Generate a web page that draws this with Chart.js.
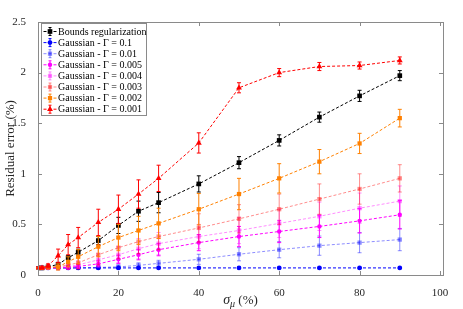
<!DOCTYPE html>
<html>
<head>
<meta charset="utf-8">
<script src="https://cdn.jsdelivr.net/npm/chart.js@4.4.0/dist/chart.umd.min.js"></script>
<style>
  html, body { margin: 0; padding: 0; background: #fff; }
</style>
</head>
<body>
<canvas id="chart" width="463" height="309"></canvas>
<script>
// sigma_mu in %
const sigmaMu = [0, 1, 2.5, 5, 7.5, 10, 15, 20, 25, 30, 40, 50, 60, 70, 80, 90];

const seriesNames = [
  "Bounds regularization",
  "Gaussian - Γ = 0.1",
  "Gaussian - Γ = 0.01",
  "Gaussian - Γ = 0.005",
  "Gaussian - Γ = 0.004",
  "Gaussian - Γ = 0.003",
  "Gaussian - Γ = 0.002",
  "Gaussian - Γ = 0.001"
];

// residual error (%) and error bar half-widths
const bounds     = [0.07, 0.07, 0.08, 0.105, 0.17, 0.225, 0.34, 0.49, 0.63, 0.715, 0.90, 1.11, 1.33, 1.56, 1.77, 1.97];
const boundsErr  = [0.01, 0.01, 0.01, 0.02, 0.02, 0.03, 0.04, 0.08, 0.10, 0.10, 0.08, 0.06, 0.055, 0.05, 0.055, 0.05];
const g0100      = [0.07, 0.07, 0.07, 0.07, 0.07, 0.07, 0.07, 0.07, 0.07, 0.07, 0.07, 0.07, 0.07, 0.07, 0.07, 0.07];
const g0100Err   = [0.005, 0.005, 0.005, 0.005, 0.005, 0.005, 0.005, 0.005, 0.005, 0.005, 0.005, 0.005, 0.005, 0.005, 0.005, 0.005];
const g0010      = [0.07, 0.07, 0.07, 0.07, 0.07, 0.07, 0.075, 0.08, 0.095, 0.115, 0.155, 0.205, 0.25, 0.29, 0.32, 0.35];
const g0010Err   = [0.005, 0.005, 0.005, 0.01, 0.01, 0.01, 0.015, 0.02, 0.025, 0.03, 0.05, 0.065, 0.08, 0.095, 0.10, 0.11];
const g0005      = [0.07, 0.07, 0.07, 0.07, 0.075, 0.085, 0.11, 0.155, 0.20, 0.25, 0.32, 0.38, 0.43, 0.48, 0.535, 0.595];
const g0005Err   = [0.005, 0.005, 0.01, 0.01, 0.015, 0.02, 0.03, 0.04, 0.05, 0.06, 0.08, 0.10, 0.11, 0.11, 0.12, 0.14];
const g0004      = [0.07, 0.07, 0.07, 0.075, 0.085, 0.10, 0.15, 0.20, 0.26, 0.31, 0.38, 0.44, 0.51, 0.58, 0.66, 0.73];
const g0004Err   = [0.005, 0.005, 0.01, 0.02, 0.03, 0.04, 0.06, 0.08, 0.10, 0.11, 0.12, 0.13, 0.14, 0.14, 0.15, 0.15];
const g0003      = [0.07, 0.07, 0.075, 0.08, 0.10, 0.12, 0.20, 0.27, 0.33, 0.38, 0.465, 0.555, 0.65, 0.75, 0.85, 0.955];
const g0003Err   = [0.005, 0.005, 0.01, 0.03, 0.04, 0.06, 0.10, 0.11, 0.12, 0.13, 0.14, 0.14, 0.15, 0.15, 0.15, 0.135];
const g0002      = [0.07, 0.07, 0.075, 0.08, 0.13, 0.18, 0.28, 0.37, 0.44, 0.51, 0.65, 0.80, 0.955, 1.12, 1.30, 1.55];
const g0002Err   = [0.005, 0.005, 0.01, 0.03, 0.05, 0.07, 0.10, 0.13, 0.14, 0.15, 0.155, 0.155, 0.145, 0.12, 0.10, 0.087];
const g0001      = [0.07, 0.07, 0.09, 0.19, 0.30, 0.37, 0.52, 0.65, 0.80, 0.955, 1.305, 1.85, 2.00, 2.06, 2.07, 2.12];
const g0001Err   = [0.01, 0.01, 0.02, 0.066, 0.10, 0.10, 0.13, 0.14, 0.14, 0.13, 0.10, 0.05, 0.04, 0.04, 0.035, 0.035];

const xTicks = [0, 20, 40, 60, 80, 100];
const yTicks = [0, 0.5, 1, 1.5, 2, 2.5];

const allValues = [bounds, g0100, g0010, g0005, g0004, g0003, g0002, g0001];
const allErrors = [boundsErr, g0100Err, g0010Err, g0005Err, g0004Err, g0003Err, g0002Err, g0001Err];

// styles
const colors = ["#000000", "#0000ff", "rgba(0,0,255,0.45)", "#ff00ff",
                "rgba(255,0,255,0.45)", "rgba(255,0,0,0.45)", "#ff8000", "#ff0000"];
const markers = ["rect", "circle", "rect", "circle", "rect", "rect", "rect", "triangle"];
const markerSize = [3.3, 2.4, 3, 2.2, 3, 3, 3, 3.4];

const serif = "'Liberation Serif', 'DejaVu Serif', serif";

const datasets = allValues.map((vals, i) => ({
  label: seriesNames[i],
  data: sigmaMu.map((x, k) => ({ x: x, y: vals[k] })),
  errors: allErrors[i],
  borderColor: colors[i],
  backgroundColor: colors[i],
  borderWidth: 1,
  borderDash: [3, 2],
  pointStyle: markers[i],
  pointRadius: markerSize[i],
  pointBorderWidth: 0,
  pointBackgroundColor: colors[i],
  tension: 0,
  order: 7 - i
}));

// error bars through the scales
const errorBars = {
  id: "errorBars",
  afterDatasetDraw(chart, args) {
    const ds = chart.data.datasets[args.index];
    const xs = chart.scales.x, ys = chart.scales.y;
    const ctx = chart.ctx;
    ctx.save();
    ctx.strokeStyle = ds.borderColor;
    ctx.lineWidth = 1;
    ds.data.forEach((p, k) => {
      const e = ds.errors[k];
      const px = xs.getPixelForValue(p.x);
      const top = ys.getPixelForValue(p.y + e);
      const bot = ys.getPixelForValue(p.y - e);
      ctx.beginPath();
      ctx.moveTo(px, top); ctx.lineTo(px, bot);
      ctx.moveTo(px - 2, top); ctx.lineTo(px + 2, top);
      ctx.moveTo(px - 2, bot); ctx.lineTo(px + 2, bot);
      ctx.stroke();
    });
    ctx.restore();
  }
};

// box, inward ticks, axis titles and legend (MATLAB look)
const frame = {
  id: "frame",
  afterDatasetsDraw(chart) {
    const ctx = chart.ctx;
    const a = chart.chartArea;
    const xs = chart.scales.x, ys = chart.scales.y;
    ctx.save();
    ctx.strokeStyle = "#8a8a8a";
    ctx.lineWidth = 1;
    ctx.strokeRect(Math.round(a.left) + 0.5, Math.round(a.top) + 0.5,
                   Math.round(a.right - a.left), Math.round(a.bottom - a.top));
    ctx.beginPath();
    xTicks.forEach(v => {
      const px = Math.round(xs.getPixelForValue(v)) + 0.5;
      ctx.moveTo(px, a.bottom); ctx.lineTo(px, a.bottom - 4);
      ctx.moveTo(px, a.top); ctx.lineTo(px, a.top + 4);
    });
    yTicks.forEach(v => {
      const py = Math.round(ys.getPixelForValue(v)) + 0.5;
      ctx.moveTo(a.left, py); ctx.lineTo(a.left + 4, py);
      ctx.moveTo(a.right, py); ctx.lineTo(a.right - 4, py);
    });
    ctx.stroke();

    // y title
    ctx.fillStyle = "#262626";
    ctx.font = "13px " + serif;
    ctx.textAlign = "center";
    ctx.textBaseline = "middle";
    ctx.save();
    ctx.translate(11, (a.top + a.bottom) / 2);
    ctx.rotate(-Math.PI / 2);
    ctx.fillText("Residual error (%)", 0, 0);
    ctx.restore();

    // x title: sigma_mu (%)
    ctx.textAlign = "left";
    ctx.textBaseline = "alphabetic";
    const big = "italic 14px " + serif, small = "italic 10px " + serif, norm = "13px " + serif;
    ctx.font = big; const w1 = ctx.measureText("σ").width;
    ctx.font = small; const w2 = ctx.measureText("μ").width;
    ctx.font = norm; const w3 = ctx.measureText(" (%)").width;
    let x0 = (a.left + a.right) / 2 - (w1 + w2 + w3) / 2;
    const base = 304;
    ctx.font = big; ctx.fillText("σ", x0, base); x0 += w1;
    ctx.font = small; ctx.fillText("μ", x0, base + 3); x0 += w2;
    ctx.font = norm; ctx.fillText(" (%)", x0, base);

    // legend
    const lx = 41.5, ly = 23.5, lw = 105, lh = 92;
    ctx.fillStyle = "#ffffff";
    ctx.fillRect(lx, ly, lw, lh);
    ctx.strokeStyle = "#8a8a8a";
    ctx.strokeRect(lx, ly, lw, lh);
    ctx.font = "10px " + serif;
    ctx.textBaseline = "middle";
    chart.data.datasets.forEach((ds, i) => {
      const y = 31.5 + i * 11.1;
      ctx.strokeStyle = ds.borderColor;
      ctx.fillStyle = ds.borderColor;
      ctx.lineWidth = 1;
      ctx.setLineDash([3, 2]);
      ctx.beginPath();
      ctx.moveTo(43.5, y); ctx.lineTo(57, y);
      ctx.stroke();
      ctx.setLineDash([]);
      ctx.beginPath();
      ctx.moveTo(50, y - 4); ctx.lineTo(50, y + 4);
      ctx.moveTo(48.5, y - 4); ctx.lineTo(51.5, y - 4);
      ctx.moveTo(48.5, y + 4); ctx.lineTo(51.5, y + 4);
      ctx.stroke();
      Chart.helpers.drawPoint(ctx, {
        pointStyle: ds.pointStyle, radius: ds.pointRadius, rotation: 0, borderWidth: 0
      }, 50, y);
      ctx.fillStyle = "#000000";
      ctx.fillText(ds.label, 58, y + 0.5);
    });
    ctx.restore();
  }
};

new Chart(document.getElementById("chart"), {
  type: "line",
  data: { datasets: datasets },
  plugins: [errorBars, frame],
  options: {
    responsive: false,
    animation: false,
    layout: { padding: { top: 22, right: 20, left: 0, bottom: 0 } },
    plugins: { legend: { display: false }, tooltip: { enabled: false } },
    scales: {
      x: {
        type: "linear",
        min: 0,
        max: 100.75,
        grid: { display: false },
        border: { display: false },
        ticks: {
          stepSize: 20,
          includeBounds: false,
          padding: 4,
          color: "#262626",
          font: { family: serif, size: 11 },
          callback: v => String(v)
        },
        afterFit: s => { s.height = 34; }
      },
      y: {
        min: 0,
        max: 2.5,
        grid: { display: false },
        border: { display: false },
        ticks: {
          stepSize: 0.5,
          padding: 4,
          color: "#262626",
          font: { family: serif, size: 11 },
          callback: v => String(v)
        },
        afterFit: s => { s.width = 38; }
      }
    }
  }
});
</script>
</body>
</html>
